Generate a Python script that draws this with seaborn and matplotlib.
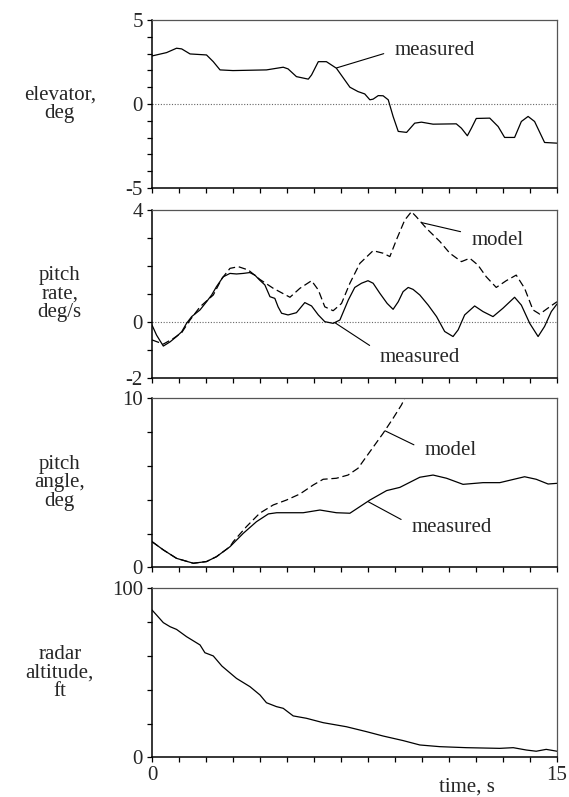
import numpy as np
import pandas as pd
import matplotlib
matplotlib.use("Agg")
import matplotlib.pyplot as plt
from matplotlib.ticker import MultipleLocator, FixedLocator, NullFormatter
import seaborn as sns

# elevator (measured)
elev_t = [0, 0.54, 0.91, 1.1, 1.41, 2.02, 2.27, 2.52, 3.0, 4.24, 4.86, 5.04, 5.35, 5.79, 5.91,
          6.16, 6.46, 6.83, 7.33, 7.63, 7.88, 8.07, 8.19, 8.38, 8.56, 8.75, 8.93, 9.12, 9.43,
          9.73, 9.98, 10.41, 11.27, 11.46, 11.68, 11.83, 12.01, 12.51, 12.82, 13.06, 13.43,
          13.68, 13.93, 14.17, 14.54, 15.0]
elev_v = [2.86, 3.06, 3.32, 3.28, 2.98, 2.92, 2.52, 2.03, 1.99, 2.03, 2.19, 2.09, 1.63, 1.48, 1.73,
          2.52, 2.52, 2.13, 1.0, 0.74, 0.6, 0.25, 0.29, 0.5, 0.49, 0.25, -0.74, -1.63, -1.69,
          -1.14, -1.08, -1.2, -1.18, -1.44, -1.89, -1.44, -0.86, -0.84, -1.34, -1.99, -1.99,
          -1.04, -0.74, -1.04, -2.29, -2.33]

# pitch rate
qm_t = [0, 0.17, 0.42, 0.67, 0.91, 1.1, 1.28, 1.47, 1.78, 2.02, 2.21, 2.39, 2.64, 2.89, 3.13,
        3.38, 3.62, 3.81, 3.99, 4.18, 4.37, 4.55, 4.67, 4.8, 5.04, 5.35, 5.66, 5.91, 6.16, 6.4,
        6.71, 6.96, 7.27, 7.51, 7.76, 8.0, 8.19, 8.44, 8.71, 8.93, 9.12, 9.3, 9.49, 9.67, 9.92,
        10.23, 10.54, 10.84, 11.15, 11.34, 11.58, 11.95, 12.26, 12.63, 13.0, 13.43, 13.68,
        13.99, 14.3, 14.54, 14.79, 15.0]
qm_v = [-0.1, -0.46, -0.85, -0.7, -0.51, -0.34, -0.04, 0.2, 0.44, 0.73, 0.97, 1.27, 1.62, 1.74,
        1.72, 1.74, 1.77, 1.68, 1.5, 1.33, 0.91, 0.85, 0.55, 0.32, 0.26, 0.34, 0.7, 0.58, 0.26,
        0.02, -0.04, 0.08, 0.79, 1.24, 1.39, 1.48, 1.39, 1.03, 0.67, 0.46, 0.73, 1.09, 1.24,
        1.17, 0.97, 0.61, 0.2, -0.33, -0.51, -0.27, 0.26, 0.58, 0.38, 0.2, 0.5, 0.89, 0.61,
        -0.04, -0.51, -0.15, 0.38, 0.65]
qmod_t = [0, 0.42, 0.79, 1.1, 1.41, 1.78, 2.27, 2.59, 2.89, 3.2, 3.57, 3.99, 4.49, 5.11, 5.48,
          5.91, 6.16, 6.4, 6.71, 7.02, 7.33, 7.7, 8.19, 8.56, 8.81, 9.05, 9.36, 9.61, 9.79,
          10.16, 10.66, 11.03, 11.46, 11.77, 12.07, 12.38, 12.75, 13.12, 13.49, 13.8, 14.11,
          14.36, 14.73, 15.0]
qmod_v = [-0.63, -0.78, -0.58, -0.37, 0.08, 0.55, 0.97, 1.56, 1.92, 1.98, 1.86, 1.53, 1.21, 0.89,
          1.21, 1.48, 1.15, 0.55, 0.41, 0.67, 1.39, 2.1, 2.55, 2.46, 2.34, 2.93, 3.64, 3.94, 3.76,
          3.35, 2.88, 2.46, 2.16, 2.28, 2.04, 1.62, 1.24, 1.48, 1.68, 1.21, 0.44, 0.29, 0.55, 0.73]

# pitch angle
thm_t = [0, 0.42, 0.91, 1.53, 2.02, 2.39, 2.89, 3.38, 3.87, 4.31, 4.62, 5.6, 6.22, 6.83, 7.33,
         7.7, 8.07, 8.69, 9.18, 9.92, 10.41, 10.91, 11.52, 12.26, 12.88, 13.8, 14.23, 14.67, 15.0]
thm_v = [1.52, 1.03, 0.53, 0.24, 0.34, 0.63, 1.22, 2.01, 2.7, 3.16, 3.23, 3.23, 3.39, 3.23, 3.2,
         3.59, 3.98, 4.54, 4.73, 5.33, 5.46, 5.27, 4.91, 5.01, 5.01, 5.36, 5.21, 4.93, 4.97]
thmod_t = [0, 0.42, 0.91, 1.53, 2.02, 2.39, 2.89, 3.01, 3.5, 3.99, 4.49, 4.98, 5.48, 5.97, 6.34,
           6.83, 7.26, 7.63, 8.07, 8.56, 8.93, 9.24, 9.42]
thmod_v = [1.52, 1.03, 0.53, 0.24, 0.34, 0.63, 1.22, 1.52, 2.41, 3.2, 3.69, 3.98, 4.34, 4.87, 5.21,
           5.27, 5.46, 5.86, 6.84, 7.93, 8.82, 9.61, 10.2]

# radar altitude
alt_t = [0, 0.17, 0.42, 0.67, 0.91, 1.28, 1.78, 1.96, 2.27, 2.59, 3.13, 3.63, 4.0, 4.24, 4.61,
         4.86, 5.23, 5.72, 6.34, 7.2, 7.94, 8.56, 9.3, 9.92, 10.66, 11.65, 12.88, 13.38, 13.87,
         14.23, 14.6, 15.0]
alt_v = [87.2, 84.2, 79.7, 77.3, 75.7, 71.4, 66.5, 61.9, 60, 54, 46.7, 41.8, 36.9, 32.3, 30,
         29, 24.5, 23.1, 20.5, 18.1, 15.2, 12.6, 9.9, 7.3, 6.3, 5.7, 5.3, 5.7, 4.3, 3.6, 4.7, 3.6]

sns.set_style("white")
plt.rcParams["font.family"] = ["Liberation Serif", "DejaVu Serif"]
plt.rcParams["font.size"] = 15
plt.rcParams["axes.unicode_minus"] = False

fig = plt.figure(figsize=(5.69, 7.97), dpi=100)

left, width = 0.2671, 0.7118
bottoms = [0.7641, 0.5253, 0.2882, 0.0498]
heights = [0.2108, 0.2112, 0.2120, 0.2120]
axes = [fig.add_axes([left, b, width, h]) for b, h in zip(bottoms, heights)]

ylabels = ["elevator,\ndeg", "pitch\nrate,\ndeg/s", "pitch\nangle,\ndeg", "radar\naltitude,\nft"]
ylims = [(-5, 5), (-2, 4), (0, 10), (0, 100)]
ymajor = [[-5, 0, 5], [-2, 0, 4], [0, 10], [0, 100]]
yminor = [1, 1, 2, 20]

solid = dict(color="black", lw=0.9)
dashed = dict(color="black", lw=0.9, dashes=(6, 3))

sns.lineplot(x=elev_t, y=elev_v, ax=axes[0], **solid)
sns.lineplot(x=qmod_t, y=qmod_v, ax=axes[1], **dashed)
sns.lineplot(x=qm_t, y=qm_v, ax=axes[1], **solid)
sns.lineplot(x=thmod_t, y=thmod_v, ax=axes[2], **dashed)
sns.lineplot(x=thm_t, y=thm_v, ax=axes[2], **solid)
sns.lineplot(x=alt_t, y=alt_v, ax=axes[3], **solid)

for i, ax in enumerate(axes):
    ax.set_xlim(0, 15)
    ax.set_ylim(*ylims[i])
    ax.xaxis.set_major_locator(FixedLocator([0, 15]))
    ax.xaxis.set_minor_locator(MultipleLocator(1))
    ax.yaxis.set_major_locator(FixedLocator(ymajor[i]))
    ax.yaxis.set_minor_locator(MultipleLocator(yminor[i]))
    ax.tick_params(which="both", direction="out", length=3.5, width=0.9, color="black",
                   left=True, bottom=True, pad=3, labelsize=15)
    if i < 3:
        ax.xaxis.set_major_formatter(NullFormatter())
    for s in ["left", "bottom"]:
        ax.spines[s].set_color("black")
        ax.spines[s].set_linewidth(1.1)
    for s in ["top", "right"]:
        ax.spines[s].set_color("#555555")
        ax.spines[s].set_linewidth(0.9)
    ax.set_xlabel("")
    ax.set_ylabel("")
    pos = ax.get_position()
    fig.text(0.105, pos.y0 + pos.height / 2, ylabels[i], ha="center", va="center",
             fontsize=15, linespacing=0.95)

for ax in axes[:2]:
    ax.axhline(0, color="#666666", lw=0.8, ls=(0, (1, 1.5)), zorder=0)

arrow = dict(arrowstyle="-", color="black", lw=0.8, shrinkA=6, shrinkB=0)
axes[0].annotate("measured", xy=(6.84, 2.15), xytext=(9.0, 3.2), ha="left", va="center",
                 fontsize=15, arrowprops=dict(relpos=(0, 0.5), **arrow))
axes[1].annotate("model", xy=(9.99, 3.55), xytext=(11.85, 2.93), ha="left", va="center",
                 fontsize=15, arrowprops=dict(relpos=(0, 0.8), **arrow))
axes[1].annotate("measured", xy=(6.78, -0.02), xytext=(8.44, -1.27), ha="left", va="center",
                 fontsize=15, arrowprops=dict(relpos=(0, 0.8), **arrow))
axes[2].annotate("model", xy=(8.63, 8.08), xytext=(10.1, 6.94), ha="left", va="center",
                 fontsize=15, arrowprops=dict(relpos=(0, 0.5), **arrow))
axes[2].annotate("measured", xy=(8.01, 3.88), xytext=(9.62, 2.38), ha="left", va="center",
                 fontsize=15, arrowprops=dict(relpos=(0, 0.6), **arrow))

fig.text(0.821, 0.012, "time, s", ha="center", va="center", fontsize=15)

fig.savefig("out.png", dpi=100)
